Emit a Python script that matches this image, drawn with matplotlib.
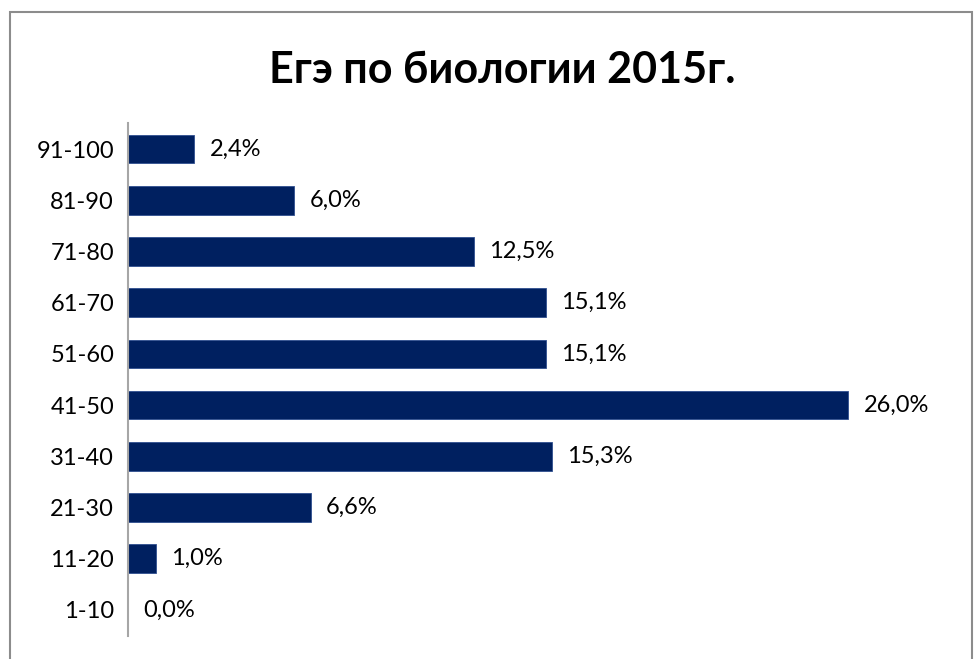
import matplotlib.pyplot as plt
from matplotlib.patches import Rectangle

categories = ['1-10', '11-20', '21-30', '31-40', '41-50', '51-60', '61-70', '71-80', '81-90', '91-100']
percent = [0.0, 1.0, 6.6, 15.3, 26.0, 15.1, 15.1, 12.5, 6.0, 2.4]

plt.rcParams['font.family'] = ['Lato', 'DejaVu Sans']

fig = plt.figure(figsize=(9.75, 6.59), dpi=100)
ax = fig.add_axes([128 / 975, 23.5 / 659, (903.5 - 128) / 975, 512 / 659])

# outer chart frame, bottom edge falls outside the picture
fig.patches.append(Rectangle((10 / 975, -0.05), 962 / 975, 1.05 - 12 / 659,
                             transform=fig.transFigure, fill=False,
                             edgecolor='#8c8c8c', linewidth=1.5))

y = range(len(categories))
ax.barh(y, percent, height=0.56, color='#002060', edgecolor='#2f4f8f', linewidth=0.6)
ax.set_xlim(0, 28)
ax.set_ylim(-0.5, len(categories) - 0.5)
ax.set_yticks(list(y))
ax.set_yticklabels(categories, fontsize=17)
ax.tick_params(axis='y', length=0, pad=10)
ax.set_xticks([])
for s in ['top', 'right', 'bottom']:
    ax.spines[s].set_visible(False)
ax.spines['left'].set_color('#a6a6a6')
ax.spines['left'].set_linewidth(1.5)

for i, v in enumerate(percent):
    ax.annotate(f"{v:.1f}".replace('.', ',') + '%', (v, i), xytext=(11, 0),
                textcoords='offset points', va='center', ha='left', fontsize=17)

fig.text(502 / 975, 1 - 70 / 659, 'Егэ по биологии 2015г.', ha='center', va='center',
         fontsize=31, fontweight='bold')

fig.savefig('out.png', dpi=100)
